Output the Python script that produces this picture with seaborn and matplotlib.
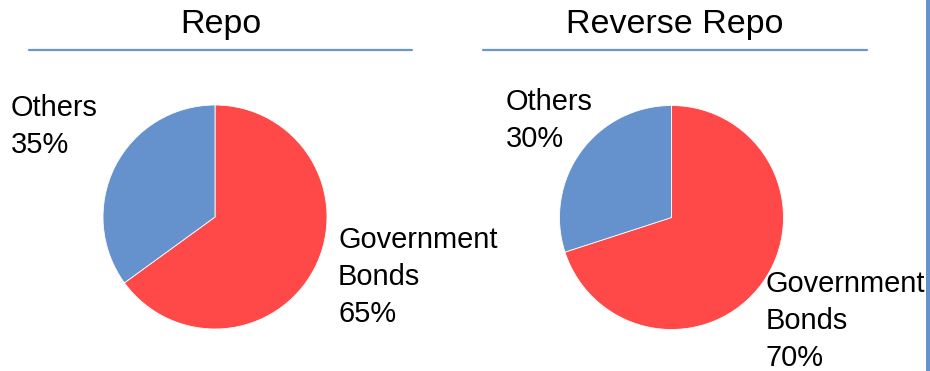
import matplotlib
matplotlib.use("Agg")
import matplotlib.pyplot as plt
from matplotlib.lines import Line2D
from matplotlib.patches import Rectangle
import seaborn as sns

# Collateral composition of repo and reverse repo transactions
categories = ["Government\nBonds", "Others"]
repo_share = [65, 35]
reverse_repo_share = [70, 30]
panel_titles = ["Repo", "Reverse Repo"]

sns.set_theme(style="white")
plt.rcParams["font.family"] = ["Liberation Sans", "DejaVu Sans"]

palette = sns.color_palette(["#FF4848", "#6591CD"])
rule_color = "#6A96D0"

W, H = 930, 371
fig = plt.figure(figsize=(W / 100, H / 100), dpi=100)
fig.patch.set_facecolor("white")


def fx(px):
    return px / W


def fy(py):
    return 1 - py / H


# panel layout: pie centre, radius, title centre, rule extent,
# label anchors (left edge, baseline of the last line), all in px
panels = [
    dict(cx=215, cy=217, r=112, tx=220.5, rule=(29, 412),
         others=(11, 153), gov=(338, 322)),
    dict(cx=671.5, cy=217.5, r=112, tx=675, rule=(483, 867),
         others=(506, 147), gov=(765.5, 366)),
]

for spec, values, title in zip(panels, [repo_share, reverse_repo_share], panel_titles):
    r = spec["r"]
    ax = fig.add_axes([fx(spec["cx"] - r), fy(spec["cy"] + r), 2 * r / W, 2 * r / H])
    ax.pie(values, colors=palette, startangle=90, counterclock=False, radius=1,
           wedgeprops=dict(edgecolor="white", linewidth=0.6))
    ax.set_xlim(-1, 1)
    ax.set_ylim(-1, 1)
    ax.set_aspect("equal")
    ax.axis("off")

    fig.text(fx(spec["tx"]), fy(33), title, ha="center", va="baseline",
             fontsize=24.5, color="black")
    x0, x1 = spec["rule"]
    fig.add_artist(Line2D([fx(x0), fx(x1)], [fy(50), fy(50)], color=rule_color,
                          linewidth=1.6, transform=fig.transFigure))

    labels = [f"{c}\n{v}%" for c, v in zip(categories, values)]
    gx, gy = spec["gov"]
    ox, oy = spec["others"]
    fig.text(fx(gx), fy(gy), labels[0], ha="left", va="baseline",
             fontsize=20.9, color="black", linespacing=1.42)
    fig.text(fx(ox), fy(oy), labels[1], ha="left", va="baseline",
             fontsize=20.9, color="black", linespacing=1.42)

# right-hand border stripe
fig.add_artist(Rectangle((fx(926), 0), fx(4), 1, transform=fig.transFigure,
                         facecolor="#6591CD", edgecolor="none"))

fig.savefig("out.png", dpi=100, facecolor="white")
